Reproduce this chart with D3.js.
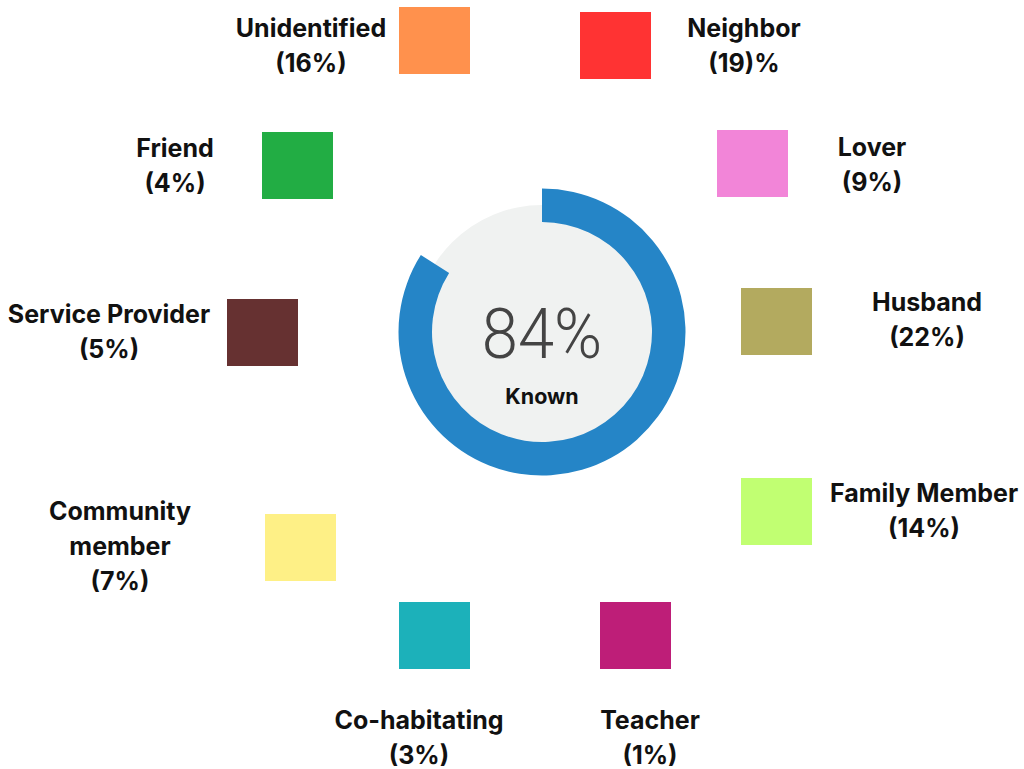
<!DOCTYPE html>
<html><head><meta charset="utf-8">
<script src="https://cdn.jsdelivr.net/npm/d3@7"></script>
<style>html,body{margin:0;padding:0;background:#fff;}svg{display:block;}</style>
</head><body>
<svg id="chart" width="1024" height="769"></svg>
<script>
// ---- data ----
const categories = ["Unidentified","Neighbor","Lover","Husband","Family Member","Teacher","Co-habitating","Community member","Service Provider","Friend"];
const labelLines = [["Unidentified"],["Neighbor"],["Lover"],["Husband"],["Family Member"],["Teacher"],["Co-habitating"],["Community","member"],["Service Provider"],["Friend"]];
const percents = [16,19,9,22,14,1,3,7,5,4];
const percentText = ["(16%)","(19)%","(9%)","(22%)","(14%)","(1%)","(3%)","(7%)","(5%)","(4%)"];
const colors = ["#FF914D","#FF3333","#F285D8","#B3AA5F","#C1FF72","#BE1E78","#1CB1BA","#FEF086","#663131","#22AD44"];
const knownValue = 84;
const knownLabel = "Known";

// ---- layout (slot positions: square top-left, label center x, first baseline) ----
const layout = [
  {sx:399, sy:7,   lx:311, ly:37},
  {sx:580, sy:12,  lx:744, ly:37},
  {sx:717, sy:130, lx:872, ly:156},
  {sx:741, sy:288, lx:927, ly:311},
  {sx:741, sy:478, lx:924, ly:502},
  {sx:600, sy:602, lx:650, ly:729},
  {sx:399, sy:602, lx:419, ly:729},
  {sx:265, sy:514, lx:120, ly:520},
  {sx:227, sy:299, lx:109, ly:323},
  {sx:262, sy:132, lx:175, ly:157}
];
const sqW = 71, sqH = 67, lineH = 35;

const svg = d3.select("#chart");
const items = categories.map((c,i)=>({name:c, lines:labelLines[i].concat([percentText[i]]), value:percents[i], color:colors[i], pos:layout[i]}));

const g = svg.selectAll("g.item").data(items).join("g").attr("class","item");
g.append("rect")
  .attr("x",d=>d.pos.sx).attr("y",d=>d.pos.sy)
  .attr("width",sqW).attr("height",sqH)
  .attr("fill",d=>d.color);
g.each(function(d){
  const t = d3.select(this).append("text")
    .attr("text-anchor","middle")
    .attr("font-family","Inter, sans-serif")
    .attr("font-weight",700)
    .attr("font-size",25)
    .attr("fill","#111");
  t.selectAll("tspan").data(d.lines).join("tspan")
    .attr("x",d.pos.lx)
    .attr("y",(l,j)=>d.pos.ly + j*lineH)
    .text(l=>l);
});

// ---- gauge ----
const cx = 542, cy = 332;
const gauge = svg.append("g").attr("transform",`translate(${cx},${cy})`);
gauge.append("circle").attr("r",127).attr("fill","#F0F2F1");
const angle = d3.scaleLinear().domain([0,100]).range([0,2*Math.PI]);
const arc = d3.arc().innerRadius(110).outerRadius(143.5);
gauge.append("path").datum({startAngle: angle(0), endAngle: angle(knownValue)})
  .attr("d", arc)
  .attr("fill","#2585C7");
gauge.append("text").attr("text-anchor","middle").attr("y",26)
  .attr("transform","scale(0.93,1)")
  .attr("font-family","Roboto, sans-serif").attr("font-weight",300)
  .attr("font-size",70).attr("fill","#444").text(knownValue+"%");
gauge.append("text").attr("text-anchor","middle").attr("y",72)
  .attr("font-family","Inter, sans-serif").attr("font-weight",700)
  .attr("font-size",21.5).attr("fill","#111").text(knownLabel);
</script>
</body></html>
